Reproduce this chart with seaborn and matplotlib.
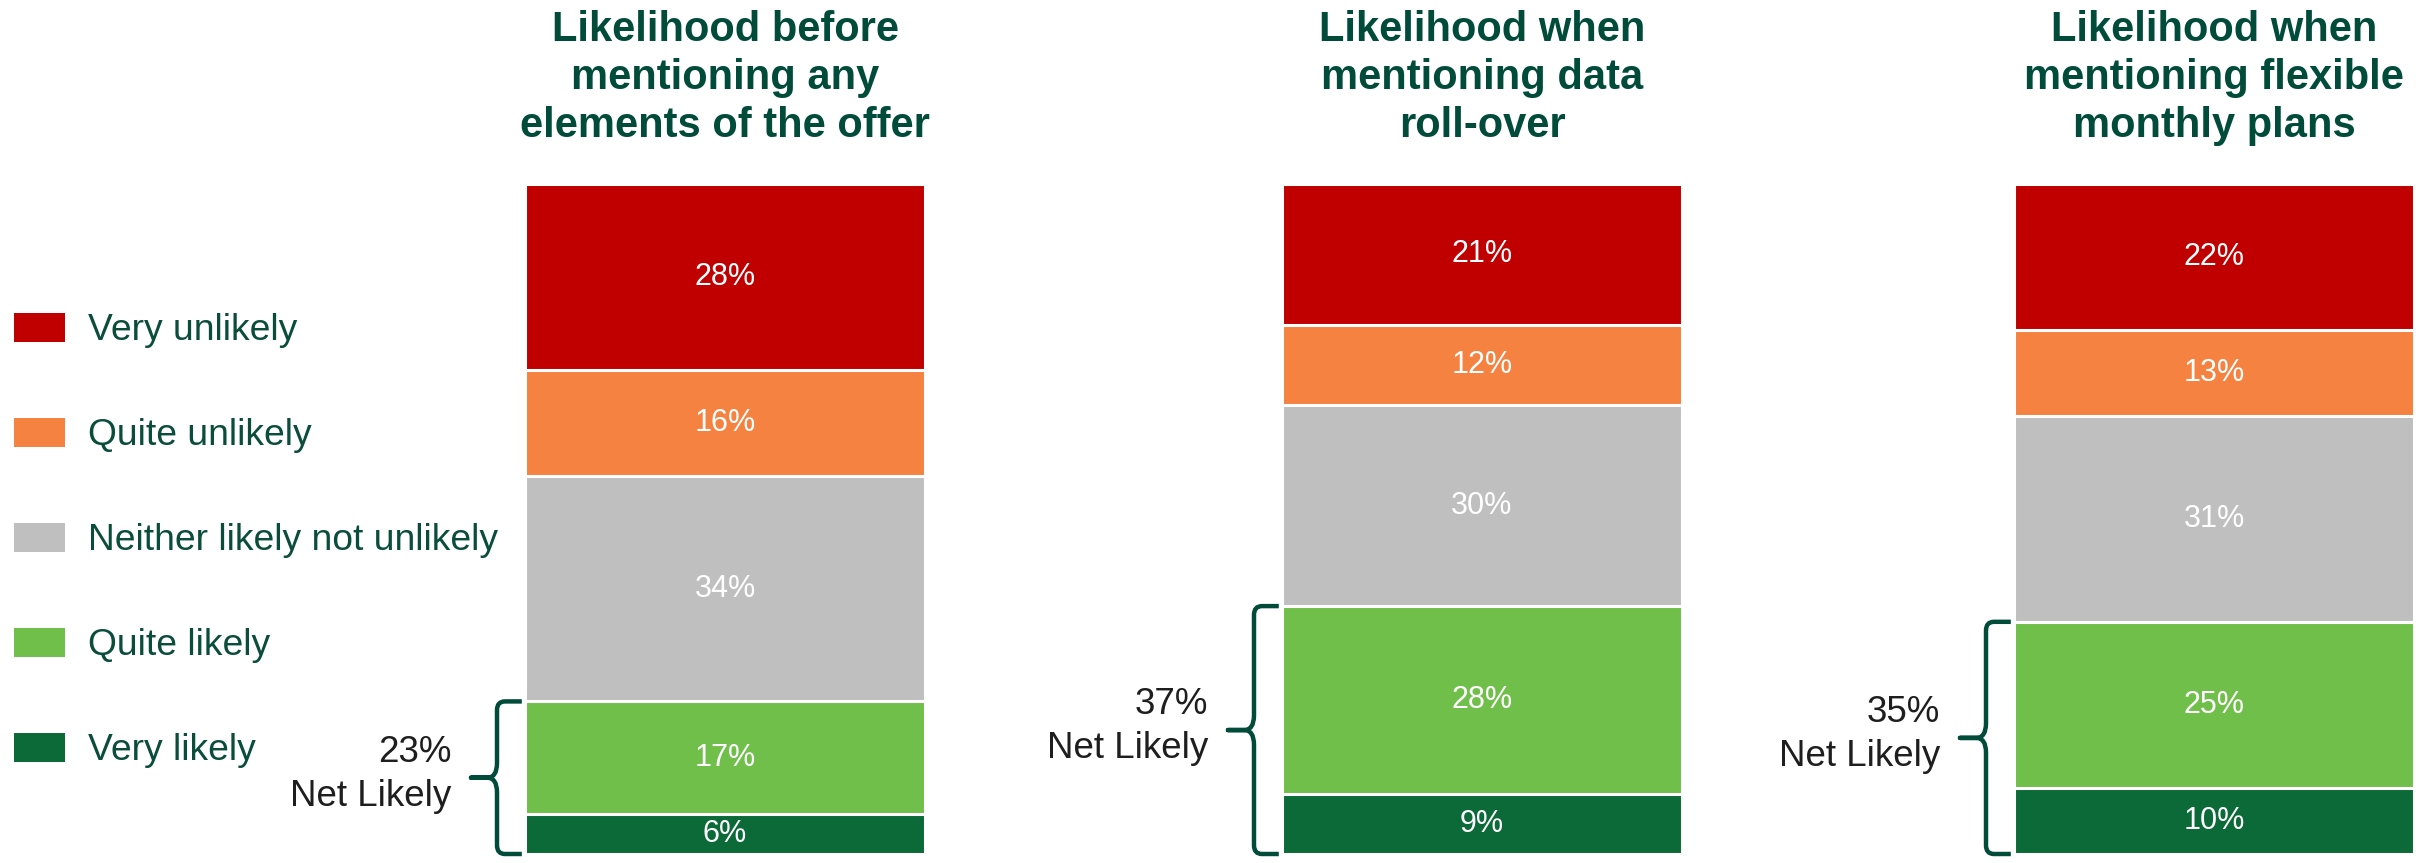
import matplotlib
matplotlib.use("Agg")
import matplotlib.pyplot as plt
import matplotlib.transforms as mtransforms
from matplotlib.path import Path
from matplotlib.patches import PathPatch, Patch
import seaborn as sns
import pandas as pd

# ---------------- data ----------------
levels = ["Very unlikely", "Quite unlikely", "Neither likely not unlikely",
          "Quite likely", "Very likely"]
titles = ["Likelihood before\nmentioning any\nelements of the offer",
          "Likelihood when\nmentioning data\nroll-over",
          "Likelihood when\nmentioning flexible\nmonthly plans"]
very_unlikely = [28, 21, 22]
quite_unlikely = [16, 12, 13]
neither = [34, 30, 31]
quite_likely = [17, 28, 25]
very_likely = [6, 9, 10]
net_label = "Net Likely"

colors = {"Very unlikely": "#C00000", "Quite unlikely": "#F58240",
          "Neither likely not unlikely": "#BFBFBF", "Quite likely": "#71BF4B",
          "Very likely": "#0B6A37"}
title_color = "#004B3A"
text_color = "#0B4D3B"
net_color = "#1E1E1E"

sns.set_theme(style="white")
plt.rcParams["font.family"] = ["Liberation Sans", "DejaVu Sans"]

W, H = 2425, 863
fig = plt.figure(figsize=(W / 100, H / 100), dpi=100)

bar_lefts = [525, 1282, 2014]
bar_w = 400
bar_bottom = 854
bar_h = 670

series = [very_unlikely, quite_unlikely, neither, quite_likely, very_likely]

for i in range(3):
    ax = fig.add_axes([bar_lefts[i] / W, (H - bar_bottom) / H,
                       bar_w / W, bar_h / H])
    vals = [s[i] for s in series]  # top to bottom
    bottom_up = list(reversed(vals))
    lv_bottom_up = list(reversed(levels))
    cums = pd.Series(bottom_up).cumsum().tolist()
    # draw from the tallest cumulative down so lower segments overlay
    for j in range(len(cums) - 1, -1, -1):
        df = pd.DataFrame({"cat": [titles[i]], "val": [cums[j]]})
        sns.barplot(data=df, x="cat", y="val", color=colors[lv_bottom_up[j]],
                    saturation=1, width=1.0, edgecolor="white", linewidth=2.2,
                    ax=ax)
    # segment labels
    prev = 0
    for j, c in enumerate(cums):
        ax.text(0, (prev + c) / 2, f"{bottom_up[j]}%", ha="center",
                va="center", color="white", fontsize=22)
        prev = c
    ax.set_xlim(-0.5, 0.5)
    ax.set_ylim(0, cums[-1])
    ax.axis("off")

    # title
    tr_title = mtransforms.blended_transform_factory(ax.transAxes, fig.transFigure)
    ax.text(0.5, 1 - 78 / H, titles[i], transform=tr_title, ha="center",
            va="center", fontsize=30, fontweight="bold", color=title_color,
            linespacing=1.26)

    # brace around likely segments
    T = cums[1]
    B = 0.0
    M = (T + B) / 2
    xv, xh, xt = -0.07, -0.008, -0.135
    rc_x, rc_y = 0.02, 1.3
    rm = 2.2
    tr = mtransforms.blended_transform_factory(ax.transAxes, ax.transData)
    verts = [(xh, T), (xv + rc_x, T), (xv, T), (xv, T - rc_y),
             (xv, M + rm), (xv, M), (xv - 0.025, M), (xt, M),
             (xv - 0.025, M), (xv, M), (xv, M - rm),
             (xv, B + rc_y), (xv, B), (xv + rc_x, B), (xh, B)]
    codes = [Path.MOVETO, Path.LINETO, Path.CURVE3, Path.CURVE3,
             Path.LINETO, Path.CURVE3, Path.CURVE3, Path.LINETO,
             Path.LINETO, Path.CURVE3, Path.CURVE3,
             Path.LINETO, Path.CURVE3, Path.CURVE3, Path.LINETO]
    patch = PathPatch(Path(verts, codes), transform=tr, fill=False,
                      edgecolor=title_color, linewidth=3.2, clip_on=False,
                      capstyle="butt", joinstyle="round")
    ax.add_patch(patch)
    net = quite_likely[i] + very_likely[i]
    ax.text(-0.185, M + 0.5, f"{net}%\n{net_label}", transform=tr, ha="right",
            va="center", multialignment="right", fontsize=26.5,
            color=net_color, linespacing=1.35)

# legend
handles = [Patch(facecolor=colors[l], edgecolor="none", label=l) for l in levels]
fs = 26.8
leg = fig.legend(handles=handles, loc="center left",
                 bbox_to_anchor=(14 / W, 1 - 540.5 / H), frameon=False,
                 fontsize=fs, handlelength=1.37, handleheight=0.83,
                 handletextpad=0.62, labelspacing=1.87, borderpad=0,
                 borderaxespad=0)
for t in leg.get_texts():
    t.set_color(text_color)

fig.savefig("out.png", dpi=100, facecolor="white")
